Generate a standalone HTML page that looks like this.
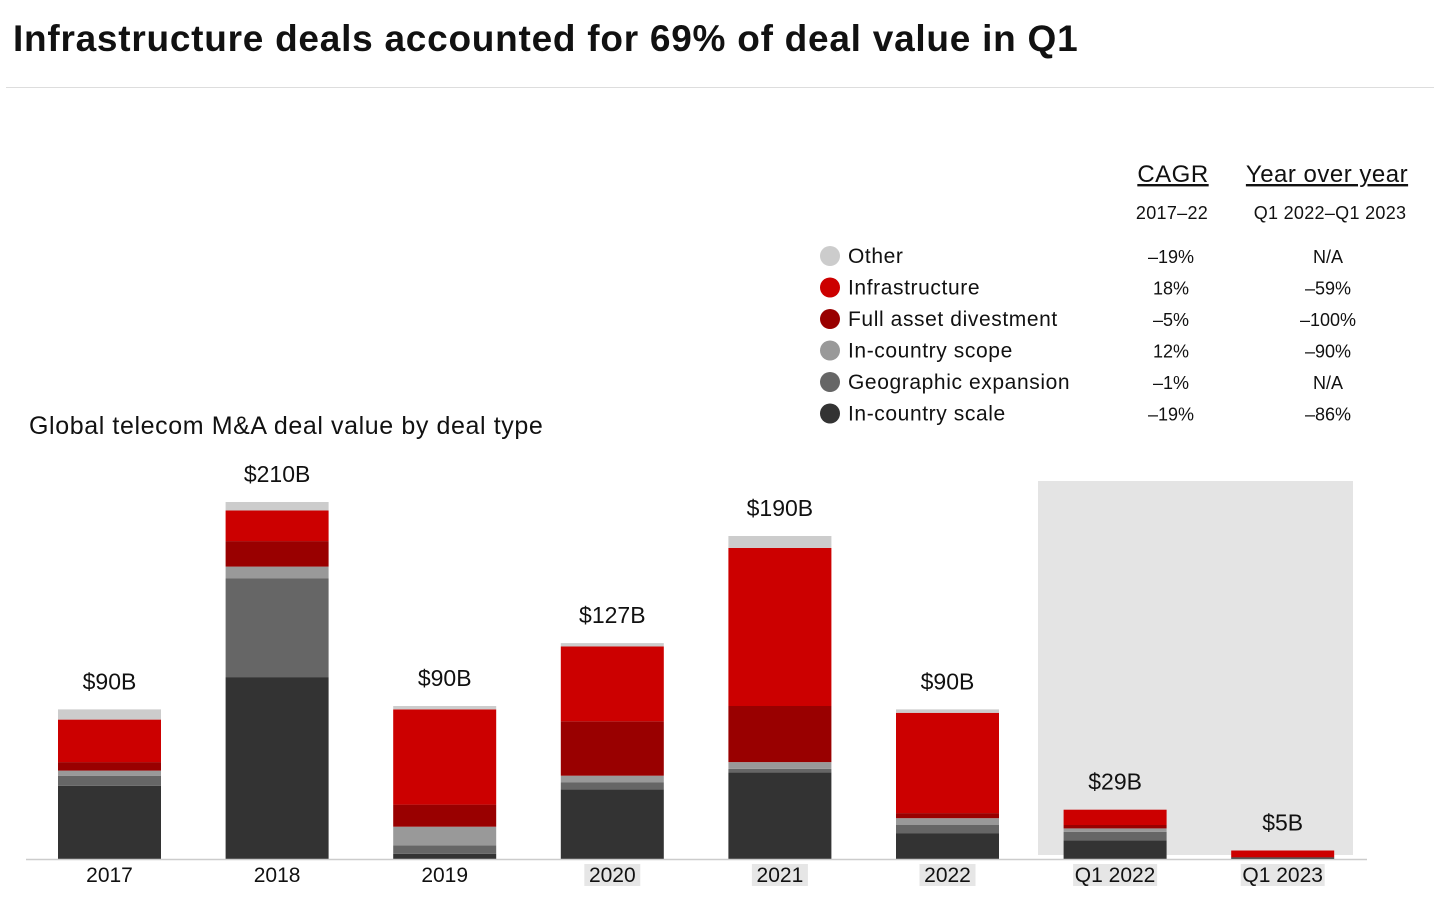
<!DOCTYPE html>
<html><head><meta charset="utf-8"><style>
body{margin:0;width:1456px;height:906px;background:#fff;font-family:"Liberation Sans",sans-serif;overflow:hidden;position:relative;color:#111}
.t{position:absolute;white-space:nowrap}
</style></head><body>
<div class="t" style="left:13px;top:18px;font-size:37px;font-weight:bold;letter-spacing:0.75px">Infrastructure deals accounted for 69% of deal value in Q1</div>
<div style="position:absolute;left:6px;top:87px;width:1428px;height:1px;background:#ddd"></div>
<div class="t" style="left:29px;top:412px;font-size:25px;letter-spacing:0.6px">Global telecom M&amp;A deal value by deal type</div>
<svg id="chart" width="1456" height="906" style="position:absolute;left:0;top:0"></svg>
<script>
const categories=["2017","2018","2019","2020","2021","2022","Q1 2022","Q1 2023"];
const totals=["$90B","$210B","$90B","$127B","$190B","$90B","$29B","$5B"];
const seriesNames=["In-country scale","Geographic expansion","In-country scope","Full asset divestment","Infrastructure","Other"];
const scale=[43,107,3,41,51,15,11,1];
const geo=[6,58,5,4,2,5,5,0];
const scope=[3,7,11,4,4,4,2,0];
const full=[5,15,13,32,33,3,2,0];
const infra=[25,18,56,44,93,59,9,4];
const other=[6,5,2,2,7,2,0,0];
// legend-order (Other first)
const cagr=["-19%","18%","-5%","12%","-1%","-19%"];
const yoy=["N/A","-59%","-100%","-90%","N/A","-86%"];
const colors=["#333333","#666666","#999999","#990000","#cc0000","#cccccc"];
const series=[scale,geo,scope,full,infra,other];
const NS="http://www.w3.org/2000/svg";
const svg=document.getElementById('chart');
const base=859,ppb=1.7;
const y=v=>base-v*ppb;
const x=i=>58+i*167.6;
const bw=103;
function mk(tag,attrs){const e=document.createElementNS(NS,tag);for(const k in attrs)e.setAttribute(k,attrs[k]);svg.appendChild(e);return e;}
const shade=mk('rect',{x:1038,y:481,width:315,height:374,fill:'#e4e4e4'});


categories.forEach((c,i)=>{
  let acc=0;
  series.forEach((s,k)=>{
    if(s[i]<=0)return;
    const r=mk('rect',{x:x(i),y:y(acc+s[i]),width:bw,height:s[i]*ppb,fill:colors[k]});
    
    
    acc+=s[i];
  });
  const t=mk('text',{x:x(i)+bw/2,y:Math.min(y(acc)-20,832),'text-anchor':'middle','font-size':23,fill:'#111'});
  t.textContent=totals[i];
  
  
  if(i>=3){const b=mk('rect',{x:x(i)+bw/2-28-(c.length>4?14:0),y:864,width:56+(c.length>4?28:0),height:22,fill:'#e6e6e6'});
    
    }
  const l=mk('text',{x:x(i)+bw/2,y:882,'text-anchor':'middle','font-size':21,fill:'#111'});
  l.textContent=c;
  
  
});
const ax=mk('line',{x1:26,x2:1367,y1:859.5,y2:859.5,stroke:'#ccc','stroke-width':1.5});


function txt(s,xx,yy,fs,anchor,extra){const t=mk('text',Object.assign({x:xx,y:yy,'font-size':fs,'text-anchor':anchor||'start',fill:'#111'},extra||{}));t.textContent=s;return t;}
let h=txt('CAGR',1173,182,24,'middle',{'text-decoration':'underline','letter-spacing':'0.5'});


h=txt('Year over year',1327,182,24,'middle',{'text-decoration':'underline','letter-spacing':'0.5'});


h=txt('2017–22',1172,219,18,'middle',{'letter-spacing':'0.3'});


h=txt('Q1 2022–Q1 2023',1330,219,18,'middle',{'letter-spacing':'0.3'});


for(let row=0;row<6;row++){
  const k=5-row, yy=256+row*31.5;
  const c=mk('circle',{cx:830,cy:yy,r:10,fill:colors[k]});
  
  
  let t=txt(seriesNames[k],848,yy+7,21,'start',{'letter-spacing':'0.6'});
  
  
  t=txt(cagr[row].replace('-','–'),1171,yy+7,18,'middle');
  
  
  t=txt(yoy[row].replace('-','–'),1328,yy+7,18,'middle');
  
  
}
</script>
</body></html>
